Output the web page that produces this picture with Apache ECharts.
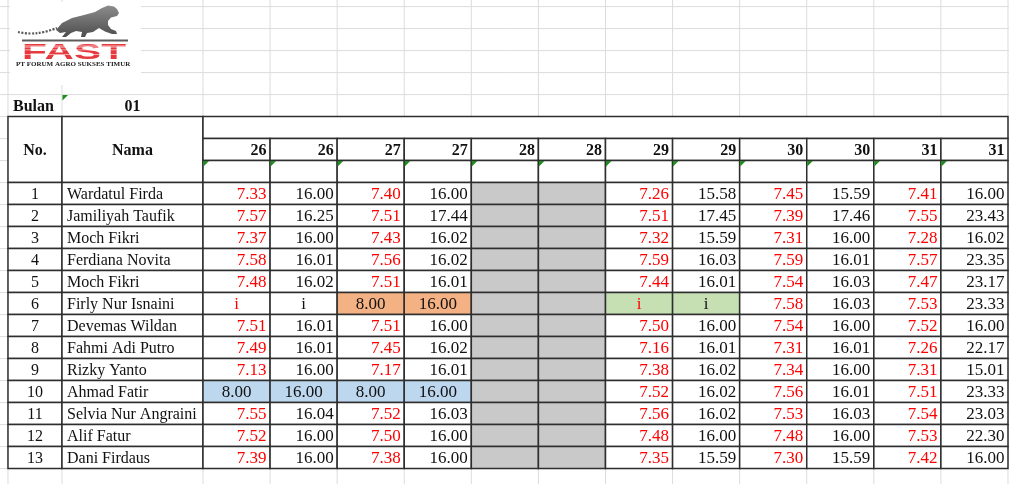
<!DOCTYPE html>
<html>
<head>
<meta charset="utf-8">
<script src="https://cdn.jsdelivr.net/npm/echarts@6/dist/echarts.min.js"></script>
<style>
html, body { margin: 0; padding: 0; background: #fff; }
#absensi { width: 1009px; height: 484px; }
</style>
</head>
<body>
<div id="absensi"></div>
<script>
// data absensi bulan 01
var bulan = '01';
var tanggal = [26, 26, 27, 27, 28, 28, 29, 29, 30, 30, 31, 31];
var nama = ['Wardatul Firda', 'Jamiliyah Taufik', 'Moch Fikri', 'Ferdiana Novita', 'Moch Fikri',
  'Firly Nur Isnaini', 'Devemas Wildan', 'Fahmi Adi Putro', 'Rizky Yanto', 'Ahmad Fatir',
  'Selvia Nur Angraini', 'Alif Fatur', 'Dani Firdaus'];

// jam masuk / pulang per tanggal ('i' = izin, null = libur)
var masuk26 = [7.33, 7.57, 7.37, 7.58, 7.48, 'i', 7.51, 7.49, 7.13, 8.00, 7.55, 7.52, 7.39];
var pulang26 = [16.00, 16.25, 16.00, 16.01, 16.02, 'i', 16.01, 16.01, 16.00, 16.00, 16.04, 16.00, 16.00];
var masuk27 = [7.40, 7.51, 7.43, 7.56, 7.51, 8.00, 7.51, 7.45, 7.17, 8.00, 7.52, 7.50, 7.38];
var pulang27 = [16.00, 17.44, 16.02, 16.02, 16.01, 16.00, 16.00, 16.02, 16.01, 16.00, 16.03, 16.00, 16.00];
var masuk28 = [null, null, null, null, null, null, null, null, null, null, null, null, null];
var pulang28 = [null, null, null, null, null, null, null, null, null, null, null, null, null];
var masuk29 = [7.26, 7.51, 7.32, 7.59, 7.44, 'i', 7.50, 7.16, 7.38, 7.52, 7.56, 7.48, 7.35];
var pulang29 = [15.58, 17.45, 15.59, 16.03, 16.01, 'i', 16.00, 16.01, 16.02, 16.02, 16.02, 16.00, 15.59];
var masuk30 = [7.45, 7.39, 7.31, 7.59, 7.54, 7.58, 7.54, 7.31, 7.34, 7.56, 7.53, 7.48, 7.30];
var pulang30 = [15.59, 17.46, 16.00, 16.01, 16.03, 16.03, 16.00, 16.01, 16.00, 16.01, 16.03, 16.00, 15.59];
var masuk31 = [7.41, 7.55, 7.28, 7.57, 7.47, 7.53, 7.52, 7.26, 7.31, 7.51, 7.54, 7.53, 7.42];
var pulang31 = [16.00, 23.43, 16.02, 23.35, 23.17, 23.33, 16.00, 22.17, 15.01, 23.33, 23.03, 22.30, 16.00];

var kolomJam = [masuk26, pulang26, masuk27, pulang27, masuk28, pulang28,
  masuk29, pulang29, masuk30, pulang30, masuk31, pulang31];

// sel yang diberi warna (baris, kolom jam)
var sorotan = [
  { baris: 5, kolom: [2, 3], warna: '#f4b183', hitam: true },
  { baris: 5, kolom: [6, 7], warna: '#c6e0b4', hitam: false },
  { baris: 9, kolom: [0, 1, 2, 3], warna: '#bdd7ee', hitam: true }
];

// tata letak: satuan x = lebar satu kolom tanggal, satuan y = tinggi satu baris
var tepiNo = -2.907, tepiNama = -2.102;
var xMin = -3.026, xMax = 12.015;
var yMin = -8.3, yMax = 13.7;
var garis = '#2e2e2e';
var merah = '#ff0000';

function cariSorot(r, c) {
  for (var i = 0; i < sorotan.length; i++) {
    if (sorotan[i].baris === r && sorotan[i].kolom.indexOf(c) >= 0) return sorotan[i];
  }
  return null;
}

// daftar sel tabel
var sel = [];
sel.push({ k: [tepiNo, -4, tepiNama, -3], teks: 'Bulan', tebal: true, rata: 'left' });
sel.push({ k: [tepiNama, -4, 0, -3], teks: bulan, tebal: true, segitiga: true });
sel.push({ k: [tepiNo, -3, tepiNama, 0], kotak: true, teks: 'No.', tebal: true });
sel.push({ k: [tepiNama, -3, 0, 0], kotak: true, teks: 'Nama', tebal: true });
sel.push({ k: [0, -3, 12, -2], kotak: true });
tanggal.forEach(function (t, i) {
  sel.push({ k: [i, -2, i + 1, -1], kotak: true, teks: String(t), tebal: true, rata: 'right' });
  sel.push({ k: [i, -1, i + 1, 0], kotak: true, segitiga: true });
});
nama.forEach(function (n, r) {
  sel.push({ k: [tepiNo, r, tepiNama, r + 1], kotak: true, teks: String(r + 1) });
  sel.push({ k: [tepiNama, r, 0, r + 1], kotak: true, teks: n, rata: 'left' });
  kolomJam.forEach(function (kol, c) {
    var v = kol[r];
    var s = cariSorot(r, c);
    var item = { k: [c, r, c + 1, r + 1], kotak: true, isi: '#fff', angka: true };
    if (v === null) {
      item.isi = '#c9c9c9';
    } else {
      item.teks = typeof v === 'number' ? v.toFixed(2) : v;
      item.warna = c % 2 === 0 ? merah : '#111';
      item.rata = 'right';
      if (v === 'i') item.rata = 'center';
      if (s) {
        item.isi = s.warna;
        if (s.hitam) { item.warna = '#111'; item.rata = 'center'; }
      }
    }
    sel.push(item);
  });
});

// garis kisi lembar kerja
var kisi = [];
[tepiNo, tepiNama].concat(tanggal.map(function (t, i) { return i; }), [12]).forEach(function (x) {
  kisi.push([x, yMin, x, yMax]);
});
for (var r = -8; r <= 13; r++) kisi.push([xMin, r, xMax, r]);

function gambarKisi(params, api) {
  var a = api.coord([api.value(0), api.value(1)]);
  var b = api.coord([api.value(2), api.value(3)]);
  return { type: 'line', shape: { x1: a[0], y1: a[1], x2: b[0], y2: b[1] }, style: { stroke: '#dcdcdc', lineWidth: 1 } };
}

function gambarSel(params, api) {
  var s = sel[params.dataIndex];
  var p0 = api.coord([api.value(0), api.value(1)]);
  var p1 = api.coord([api.value(2), api.value(3)]);
  var anak = [];
  if (s.kotak) {
    anak.push({ type: 'rect', shape: { x: p0[0], y: p0[1], width: p1[0] - p0[0], height: p1[1] - p0[1] },
      style: { fill: s.isi || '#fff', stroke: garis, lineWidth: 1.5 } });
  }
  if (s.segitiga) {
    anak.push({ type: 'polygon', shape: { points: [[p0[0] + 0.5, p0[1] + 0.5], [p0[0] + 6, p0[1] + 0.5], [p0[0] + 0.5, p0[1] + 6]] },
      style: { fill: '#1e8c1e' } });
  }
  if (s.teks != null) {
    var rata = s.rata || 'center';
    var tx = rata === 'left' ? p0[0] + 5 : rata === 'right' ? p1[0] - 3.5 : (p0[0] + p1[0]) / 2;
    var ukuran = s.angka ? 17 : 16;
    anak.push({ type: 'text', x: tx, y: (p0[1] + p1[1]) / 2 + 1,
      style: { text: s.teks, fill: s.warna || '#111', align: rata, verticalAlign: 'middle',
        font: (s.tebal ? 'bold ' : '') + ukuran + 'px "Liberation Serif", "Times New Roman", serif' } });
  }
  return { type: 'group', children: anak };
}

var abuLogo = new echarts.graphic.LinearGradient(0, 0, 0, 1, [
  { offset: 0, color: '#8c8c8c' }, { offset: 1, color: '#4e4e4e' }]);

var myChart = echarts.init(document.getElementById('absensi'));
myChart.setOption({
  animation: false,
  grid: { left: 0, right: 0, top: 0, bottom: 0 },
  xAxis: { type: 'value', min: xMin, max: xMax, show: false },
  yAxis: { type: 'value', min: yMin, max: yMax, inverse: true, show: false },
  graphic: [
    { type: 'rect', z: 100, shape: { x: 10, y: 2, width: 131, height: 83 }, style: { fill: '#fff' } },
    // ekor cheetah
    { type: 'polyline', z: 101, shape: { points: [[18, 32], [30, 33.5], [44, 32], [57, 28]], smooth: 0.4 },
      style: { stroke: '#5a5a5a', lineWidth: 2.2, lineDash: [2, 1.5] } },
    // badan cheetah
    { type: 'polygon', z: 101,
      shape: { points: [[56, 30], [62, 23], [72, 18], [84, 15], [95, 12], [102, 8], [108, 5.5], [114, 6.5], [117, 9],
        [119, 13], [117, 16], [111, 17.5], [108, 21], [108, 25], [111, 29], [116, 31], [117, 34], [112, 34],
        [105, 31.5], [99, 28], [93, 32], [87, 33], [85, 37], [81, 37], [82, 32], [76, 31], [71, 33],
        [66, 37], [62, 37], [66, 32], [60, 33]] },
      style: { fill: abuLogo } },
    { type: 'rect', z: 101, shape: { x: 22, y: 39.5, width: 106, height: 2 }, style: { fill: '#5c5c5c' } },
    { type: 'text', z: 101, x: 22, y: 42, scaleX: 1.85,
      style: { text: 'FAST', align: 'left', verticalAlign: 'top', font: 'bold 22px "Liberation Sans", Arial, sans-serif',
        fill: '#e6393e' } },
    { type: 'rect', z: 102, shape: { x: 22, y: 45, width: 106, height: 3 }, style: { fill: 'rgba(255,255,255,0.35)' } },
    { type: 'rect', z: 102, shape: { x: 22, y: 49.5, width: 106, height: 0.8 }, style: { fill: 'rgba(255,255,255,0.75)' } },
    { type: 'rect', z: 102, shape: { x: 22, y: 54, width: 106, height: 0.8 }, style: { fill: 'rgba(255,255,255,0.75)' } },
    { type: 'text', z: 101, x: 16, y: 64.5,
      style: { text: 'PT FORUM AGRO SUKSES TIMUR', align: 'left', verticalAlign: 'middle', fill: '#222',
        font: 'bold 7px "Liberation Serif", serif' } }
  ],
  series: [
    { type: 'custom', name: 'kisi', z: 1, silent: true, renderItem: gambarKisi, data: kisi },
    { type: 'custom', name: 'tabel', z: 2, silent: true, renderItem: gambarSel,
      data: sel.map(function (s) { return s.k; }) }
  ]
});
</script>
</body>
</html>
